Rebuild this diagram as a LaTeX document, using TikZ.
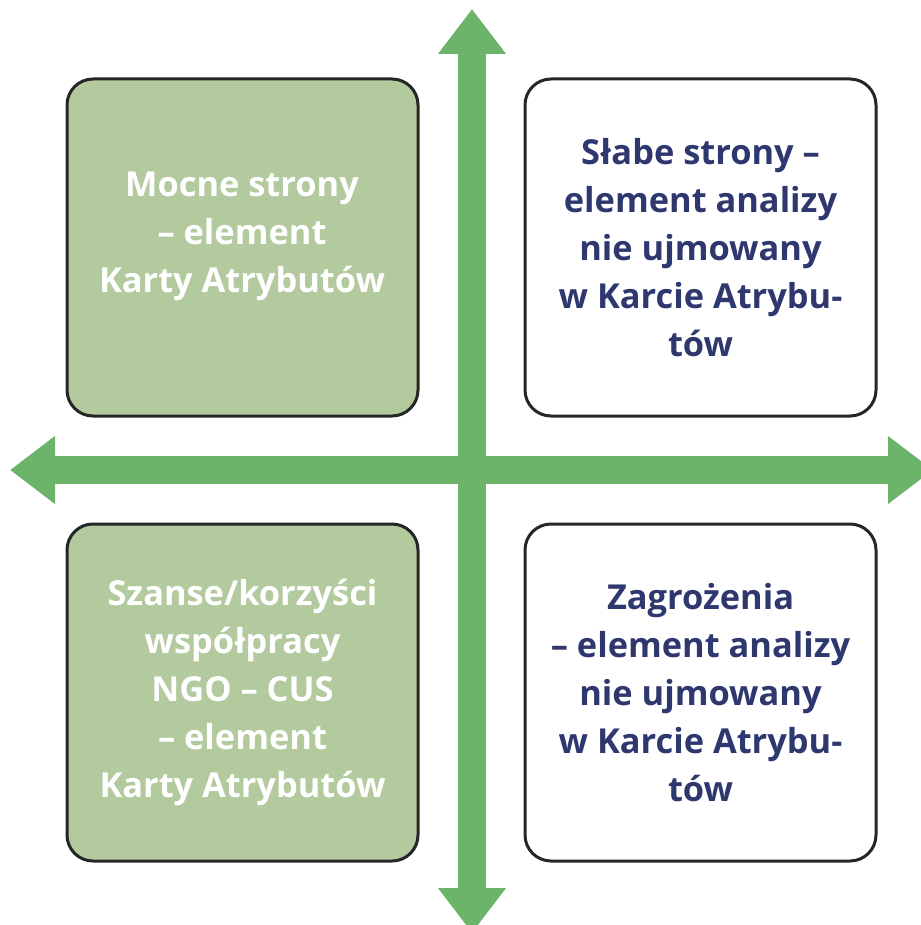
\documentclass[tikz,border=0pt]{standalone}
\usepackage{fontspec}
\setmainfont{Open Sans}
\usetikzlibrary{arrows.meta}

\definecolor{arrowgreen}{RGB}{107,180,106}
\definecolor{boxgreen}{RGB}{179,201,158}
\definecolor{boxline}{RGB}{38,38,38}
\definecolor{textnavy}{RGB}{46,56,110}

\tikzset{
  quad/.style = {draw=boxline, line width=3pt, rounded corners=26pt,
    minimum width=351pt, minimum height=337pt},
  strong/.style = {quad, fill=boxgreen},
  weak/.style = {quad, fill=white},
  label text/.style = {align=center, font=\fontsize{34.4}{48}\selectfont\bfseries},
  axis/.style = {arrowgreen, line width=28pt,
    {Triangle[width=65pt,length=45pt]}-{Triangle[width=65pt,length=45pt]}}
}

\begin{document}
\begin{tikzpicture}[x=1pt, y=-1pt]
    \useasboundingbox (0,0) rectangle (920,925);
    % axes
    \coordinate (north) at (472,9);
    \coordinate (south) at (472,933);
    \coordinate (west) at (10,470);
    \coordinate (east) at (933,470);
    \draw [axis] (south) -- (north);
    \draw [axis] (west) -- (east);
    % four fields
    \node [strong] (mocne) at (242.5,247.5) {};
    \node [weak] (slabe) at (700.5,247.5) {};
    \node [strong] (szanse) at (242.5,692.5) {};
    \node [weak] (zagrozenia) at (700.5,692.5) {};
    \node [label text, white] (mocnetxt)
      at (242,236) {Mocne strony\\– element\\Karty Atrybutów};
    \node [label text, textnavy] (slabetxt)
      at (slabe) {Słabe strony –\\element analizy\\nie ujmowany\\w Karcie Atrybu-\\tów};
    \node [label text, white] (szansetxt)
      at (szanse) {Szanse/korzyści\\współpracy\\NGO – CUS\\– element\\Karty Atrybutów};
    \node [label text, textnavy] (zagrozeniatxt)
      at (zagrozenia) {Zagrożenia\\– element analizy\\nie ujmowany\\w Karcie Atrybu-\\tów};
\end{tikzpicture}
\end{document}
